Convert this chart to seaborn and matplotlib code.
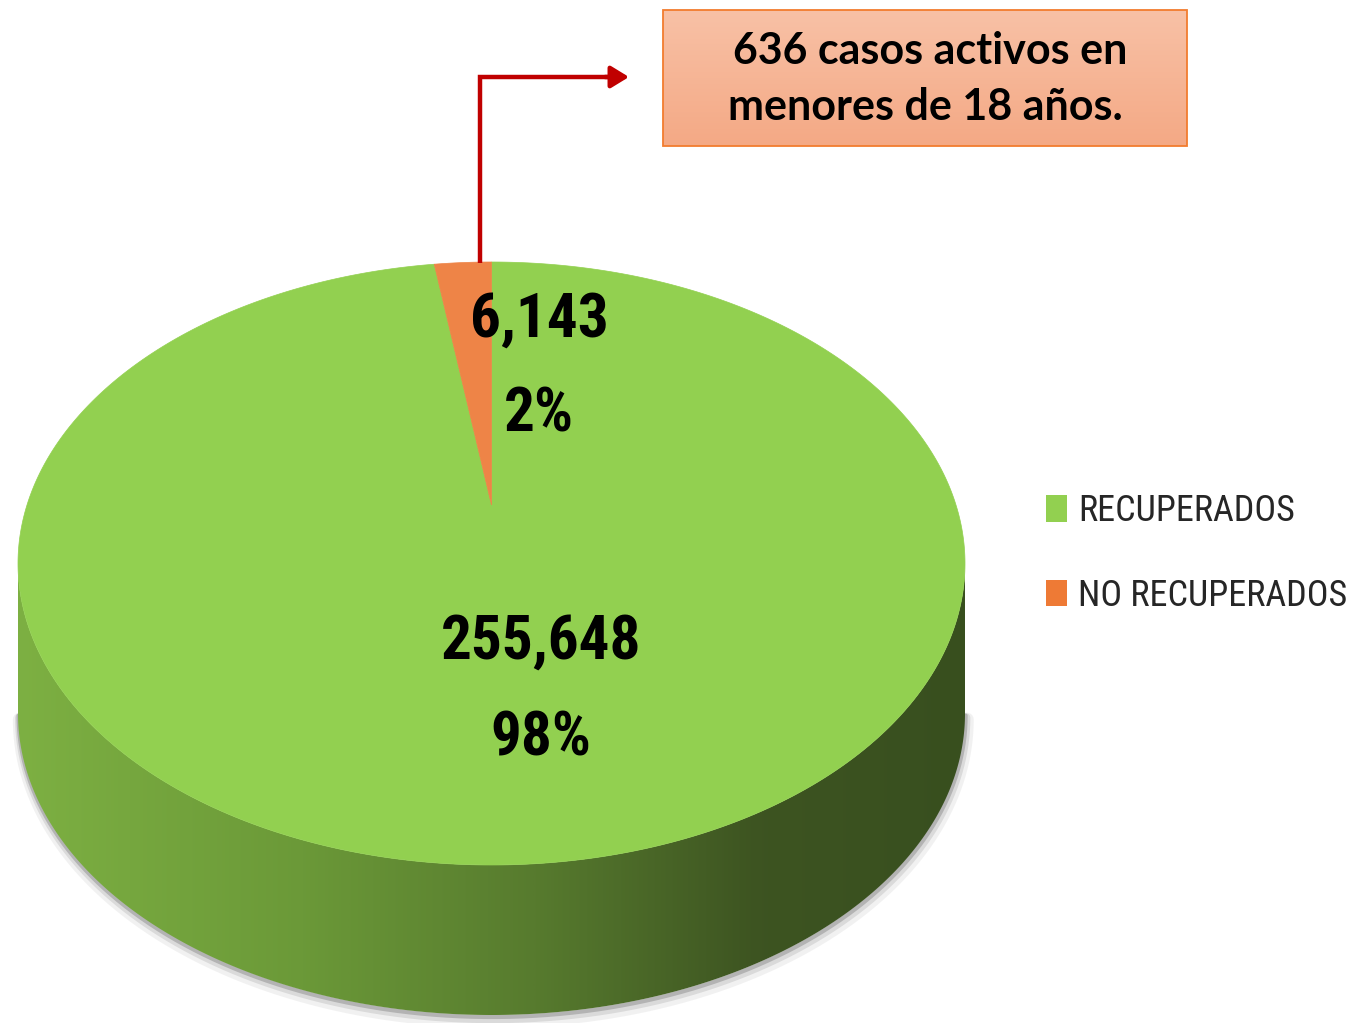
import numpy as np
import matplotlib
matplotlib.use("Agg")
import matplotlib.pyplot as plt
import seaborn as sns
from matplotlib import font_manager as fm
from matplotlib.patches import Polygon, Rectangle, Patch
from matplotlib.colors import LinearSegmentedColormap

# ---------------- data ----------------
categories = ["RECUPERADOS", "NO RECUPERADOS"]
values = [255648, 6143]
slice_colors = ["#92D050", "#EE8447"]
legend_colors = ["#92D050", "#EE7A35"]
callout_lines = ["636 casos activos en", "menores de 18 años."]

sns.set_theme(style="white")
plt.rcParams['font.family'] = ['DejaVu Sans']
BOXFONT = ['Lato', 'DejaVu Sans']

# pick a narrow font if one is installed
_avail = fm.fontManager.ttflist
_names = {f.name for f in _avail}
NARROW = None
NARROW_SCALE = 1.0
for nm in ['Roboto Condensed', 'Liberation Sans Narrow', 'Open Sans Condensed',
           'Noto Sans Condensed', 'DejaVu Sans Condensed']:
    if nm in _names:
        NARROW = dict(family=[nm, 'DejaVu Sans'])
        break
if NARROW is None:
    NARROW = dict(family=['DejaVu Sans'])
    NARROW_SCALE = 0.72

W, H = 1351, 1023
fig = plt.figure(figsize=(W / 100, H / 100), dpi=100)
ax = fig.add_axes([0, 0, 1, 1])
ax.axis('off')

# ---------------- perspective projection of the pie disk ----------------
CX, CY = 491.5, 505.0
K = 117 / 603
B = 243 * (1 + K)
A = 473.5 * np.sqrt(1 - K ** 2)
DEPTH = 150


def proj(t):
    u, v = np.cos(t), np.sin(t)
    d = 1 + K * v
    return CX + A * u / d, CY - B * v / d


total = float(sum(values))
fracs = np.array(values, dtype=float) / total

# side (front rim) with horizontal gradient
t1, t2 = np.pi + np.arcsin(K), 2 * np.pi - np.arcsin(K)
ts = np.linspace(t1, t2, 500)
tx, ty = proj(ts)
bx, by = tx[::-1], ty[::-1] + DEPTH
side_xy = np.column_stack([np.r_[tx, bx], np.r_[ty, by]])

# soft shadow under the rim
for off, lw, al in [(6, 10, 0.08), (4, 6, 0.15), (2, 3, 0.30)]:
    ax.plot(bx + off * 0.3, by + off, color='0.35', lw=lw, alpha=al,
            solid_capstyle='round', zorder=1)

side_patch = Polygon(side_xy, closed=True, facecolor='none', edgecolor='none', zorder=2)
ax.add_patch(side_patch)
side_cmap = LinearSegmentedColormap.from_list(
    "side", [(0.0, (0.49, 0.69, 0.26)), (0.30, (0.42, 0.60, 0.22)),
             (0.55, (0.34, 0.48, 0.18)), (0.78, (0.24, 0.33, 0.13)),
             (1.0, (0.22, 0.31, 0.12))])
xmin, xmax = side_xy[:, 0].min(), side_xy[:, 0].max()
ymin, ymax = side_xy[:, 1].min(), side_xy[:, 1].max()
im = ax.imshow(np.linspace(0, 1, 512)[None, :], cmap=side_cmap, aspect='auto',
               extent=(xmin, xmax, ymax, ymin), zorder=2, interpolation='bilinear')
im.set_clip_path(side_patch)

# top face wedges, clockwise from 12 o'clock
a0 = np.pi / 2
for f, c in zip(fracs, slice_colors):
    a1 = a0 - 2 * np.pi * f
    tt = np.linspace(a0, a1, 600)
    px, py = proj(tt)
    poly = np.column_stack([np.r_[CX, px], np.r_[CY, py]])
    ax.add_patch(Polygon(poly, closed=True, facecolor=c, edgecolor=c, lw=0.5, zorder=3))
    a0 = a1

# value labels
pcts = [f"{round(100 * v / total)}%" for v in values]
nums = [f"{v:,}" for v in values]
label_pos = [((541, 642), (541, 738)), ((539, 320), (539, 415))]
for (p1, p2), n, p in zip(label_pos, nums, pcts):
    for pos, s in ((p1, n), (p2, p)):
        ax.text(*pos, s, ha='center', va='center', fontsize=44 * NARROW_SCALE,
                fontweight='bold', color='black', zorder=5, **NARROW)

# callout arrow
RED = '#C00000'
ax.plot([480, 480, 612], [263, 77, 77], color=RED, lw=3.2,
        solid_joinstyle='miter', solid_capstyle='butt', zorder=4)
ax.annotate('', xy=(629, 77), xytext=(605, 77),
            arrowprops=dict(arrowstyle='-|>,head_length=0.9,head_width=0.55',
                            color=RED, lw=3.2, shrinkA=0, shrinkB=0), zorder=4)

# callout box with vertical gradient
box_cmap = LinearSegmentedColormap.from_list("box", ["#F8C1A6", "#F4A985"])
ax.imshow(np.linspace(0, 1, 256)[:, None], cmap=box_cmap, aspect='auto',
          extent=(663, 1187, 146, 10), zorder=3, interpolation='bilinear')
ax.add_patch(Rectangle((663, 10), 524, 136, facecolor='none', edgecolor='#F27C2E',
                       lw=1.3, zorder=4))
ax.text(930, 51, callout_lines[0], ha='center', va='center', fontsize=31,
        fontweight='bold', family=BOXFONT, color='black', zorder=5)
ax.text(925, 107, callout_lines[1], ha='center', va='center', fontsize=31,
        fontweight='bold', family=BOXFONT, color='black', zorder=5)

# legend
handles = [Patch(facecolor=c, edgecolor='none') for c in legend_colors]
lprop = dict(size=26 * NARROW_SCALE, family=NARROW['family'])
leg = ax.legend(handles, categories, loc='upper left',
                bbox_to_anchor=(1046 / W, 1 - 493 / H), bbox_transform=fig.transFigure,
                frameon=False, borderpad=0, borderaxespad=0, handlelength=0.58 / NARROW_SCALE,
                handleheight=0.75 / NARROW_SCALE, handletextpad=0.3,
                labelspacing=1.35 / NARROW_SCALE, prop=lprop)

ax.set_xlim(0, W)
ax.set_ylim(H, 0)
fig.savefig("out.png", dpi=100, facecolor='white')
